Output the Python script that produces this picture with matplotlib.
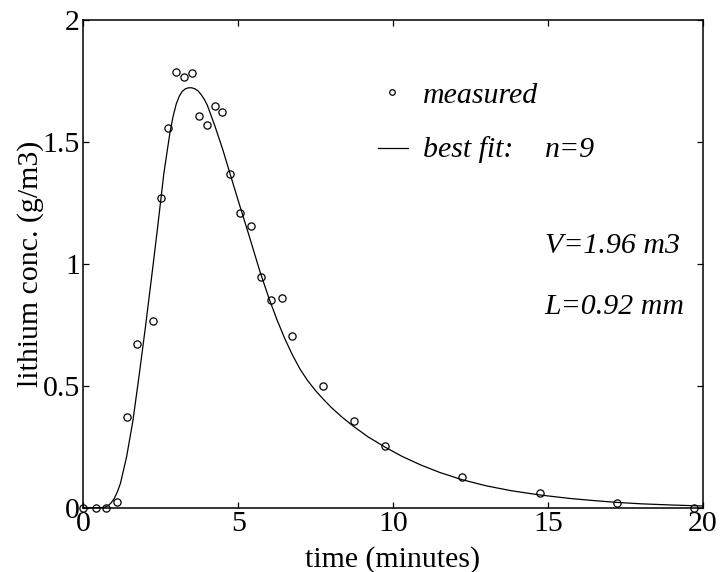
import matplotlib
matplotlib.use("Agg")
import matplotlib.pyplot as plt

# measured lithium concentrations
t_meas = [0, 0.41, 0.74, 1.08, 1.41, 1.74, 2.24, 2.50, 2.745, 2.99, 3.24, 3.50, 3.75,
          3.99, 4.24, 4.49, 4.74, 5.07, 5.40, 5.74, 6.07, 6.40, 6.75, 7.74, 8.73,
          9.73, 12.24, 14.75, 17.23, 19.72]
c_meas = [0, 0, 0, 0.025, 0.371, 0.671, 0.766, 1.271, 1.558, 1.788, 1.765, 1.784, 1.606,
          1.571, 1.646, 1.623, 1.368, 1.208, 1.155, 0.946, 0.851, 0.862, 0.705, 0.498, 0.354,
          0.255, 0.125, 0.059, 0.021, 0.0]

# best fit curve
t_fit = [0, 0.6, 0.7, 0.8, 0.9, 1.0, 1.1, 1.2, 1.4, 1.6, 1.8, 2.0, 2.2, 2.4, 2.6, 2.8,
         2.9, 3.0, 3.1, 3.2, 3.3, 3.4, 3.5, 3.6, 3.7, 3.8, 3.9, 4.0, 4.25, 4.5, 4.75,
         5.0, 5.35, 5.7, 6.0, 6.25, 6.5, 6.75, 7.0, 7.25, 7.5, 7.75, 8.0, 8.35, 8.7,
         9.2, 9.75, 10.3, 10.9, 11.5, 12.2, 13.0, 13.8, 14.75, 15.7, 16.5, 17.2, 18.0,
         19.0, 20.0]
c_fit = [0, 0, 0.002, 0.008, 0.02, 0.038, 0.065, 0.10, 0.21, 0.355, 0.54, 0.735, 0.94,
         1.15, 1.37, 1.54, 1.605, 1.655, 1.688, 1.708, 1.718, 1.722, 1.722, 1.718, 1.71,
         1.695, 1.676, 1.652, 1.565, 1.47, 1.365, 1.26, 1.117, 0.97, 0.857, 0.772, 0.695,
         0.627, 0.568, 0.52, 0.48, 0.445, 0.412, 0.372, 0.336, 0.29, 0.248, 0.21, 0.175,
         0.145, 0.116, 0.09, 0.07, 0.052, 0.038, 0.029, 0.022, 0.016, 0.011, 0.007]

xticks = [0, 5, 10, 15, 20]
yticks = [0, 0.5, 1, 1.5, 2]
ytick_labels = ["0", "0.5", "1", "1.5", "2"]

plt.rcParams['font.family'] = ['Liberation Serif', 'DejaVu Serif']
plt.rcParams['font.size'] = 21.5

fig = plt.figure(figsize=(7.22, 5.72), dpi=100)
ax = fig.add_axes([83.3 / 722, 1 - 507.7 / 572, 619.4 / 722, 487.7 / 572])

ax.plot(t_fit, c_fit, color='black', lw=0.9)
ax.plot(t_meas, c_meas, 'o', mfc='none', mec='black', ms=5.2, mew=0.9, clip_on=False)

ax.set_xlim(0, 20)
ax.set_ylim(0, 2)
ax.set_xticks(xticks)
ax.set_xticklabels([str(v) for v in xticks])
ax.set_yticks(yticks)
ax.set_yticklabels(ytick_labels)
ax.tick_params(direction='in', length=4.5, width=0.9, top=True, right=True, pad=2.5)
for sp in ax.spines.values():
    sp.set_linewidth(1.1)

ax.set_xlabel("time (minutes)")
ax.set_ylabel("lithium conc. (g/m3)")
ax.xaxis.set_label_coords(0.5, -0.079)
ax.yaxis.set_label_coords(-0.063, 0.5)

# legend-like annotations
ax.plot([9.96], [1.706], 'o', mfc='none', mec='black', ms=4, mew=0.9)
ax.text(10.98, 1.658, "measured", style='italic', va='baseline')
ax.plot([9.51, 10.48], [1.474, 1.474], color='black', lw=0.9)
ax.text(10.97, 1.440, "best fit:", style='italic', va='baseline')
ax.text(14.9, 1.440, "n=9", style='italic', va='baseline')
ax.text(14.9, 1.046, "V=1.96 m3", style='italic', va='baseline')
ax.text(14.9, 0.793, "L=0.92 mm", style='italic', va='baseline')

fig.savefig("out.png", dpi=100)
